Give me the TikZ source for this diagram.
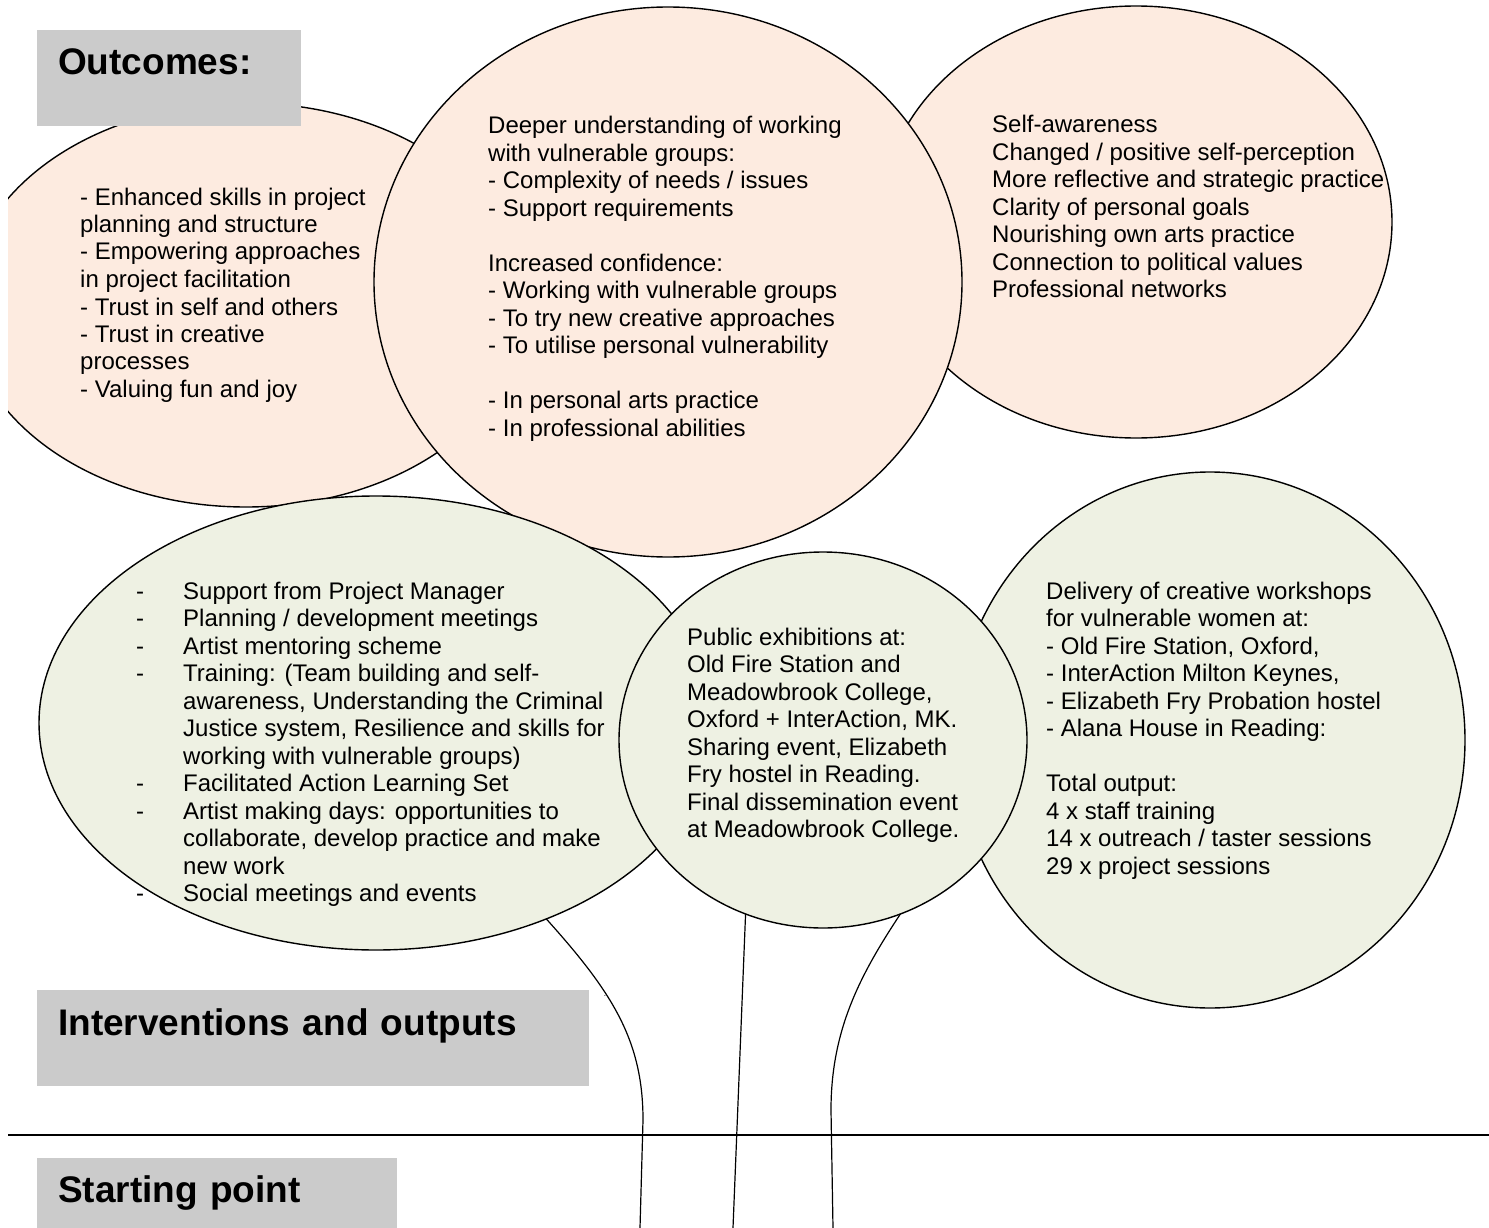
\documentclass[tikz,border=0pt]{standalone}
\usepackage{fontspec}
\setmainfont{Liberation Sans}
\usepackage{xcolor}
\definecolor{outpeach}{HTML}{FDEBE0}
\definecolor{intgreen}{HTML}{EEF1E3}
\definecolor{bandgray}{HTML}{CBCBCB}
\usepackage{tikz}
\usetikzlibrary{shapes.geometric, positioning}
\tikzset{
  peachblob/.style={ellipse, draw=black, line width=1.4pt, fill=outpeach, inner sep=0pt, outer sep=0pt},
  greenblob/.style={ellipse, draw=black, line width=1.4pt, fill=intgreen, inner sep=0pt, outer sep=0pt},
  bandbox/.style={rectangle, fill=bandgray, anchor=north west, inner xsep=21pt, inner ysep=0pt,
                  align=left, font=\fontsize{37}{44}\selectfont\bfseries},
  blobtxt/.style={anchor=base west, inner sep=0pt, font=\fontsize{24}{27.5}\selectfont},
  stem/.style={line width=1.2pt, color=black},
}

\begin{document}
\begin{tikzpicture}[x=1pt, y=-1pt]
  \useasboundingbox (0,0) rectangle (1489,1228);
  \begin{scope}
  \clip (8,0) rectangle (1489,1228);
  % outcomes
  \node[peachblob, minimum width=560pt, minimum height=404pt] (skills) at (246,305) {};
  \node[peachblob, minimum width=512pt, minimum height=432pt] (selfaware) at (1136,222) {};
  \node[peachblob, minimum width=588pt, minimum height=550pt] (understand) at (668,282) {};
  % interventions and outputs
  \node[greenblob, minimum width=674pt, minimum height=454pt] (support) at (376,723) {};
  \node[greenblob, minimum width=510pt, minimum height=536pt] (workshops) at (1210,740) {};
  \node[greenblob, minimum width=408pt, minimum height=376pt] (exhibits) at (823,740) {};
  % bands
  \node[bandbox, text width=222pt, text height=44pt, text depth=52pt] (outcomes) at (37,30) {Outcomes:};
  \node[bandbox, text width=510pt, text height=45pt, text depth=51pt] (interv) at (37,990) {Interventions and outputs};
  \node[bandbox, text width=318pt, text height=44pt, text depth=52pt] (start) at (37,1158) {Starting point};
  \coordinate (divL) at (8,1135);
  \coordinate (divR) at (1489,1135);
  \draw[line width=2.4pt] (divL) -- (divR);
  % stems
  \coordinate (rootL) at (640,1228);
  \coordinate (rootM) at (733,1228);
  \coordinate (rootR) at (833,1228);
  \draw[stem] (support.-49.7) .. controls (612,992) and (643,1040) .. (643,1120) -- (rootL);
  \draw[stem] (exhibits.-114) -- (rootM);
  \draw[stem] (exhibits.-66.6) .. controls (860,975) and (831,1030) .. (831,1110) -- (rootR);
  \node[inner sep=0pt, font=\fontsize{8}{8}\selectfont] (speck) at (605,996) {.};
  % texts
  \node[blobtxt] (skillstxt) at (80,205) {\begin{tabular}[t]{@{}l@{}}
    - Enhanced skills in project\\planning and structure\\- Empowering approaches\\in project facilitation\\
    - Trust in self and others\\- Trust in creative\\processes\\- Valuing fun and joy
  \end{tabular}};
  \node[blobtxt] (understandtxt) at (488,134) {\begin{tabular}[t]{@{}l@{}}
    Deeper understanding of working\\with vulnerable groups:\\- Complexity of needs / issues\\- Support requirements\\[27.5pt]
    Increased confidence:\\- Working with vulnerable groups\\- To try new creative approaches\\- To utilise personal vulnerability\\[27.5pt]
    - In personal arts practice\\- In professional abilities
  \end{tabular}};
  \node[blobtxt] (selfawaretxt) at (992,133) {\begin{tabular}[t]{@{}l@{}}
    Self-awareness\\Changed / positive self-perception\\More reflective and strategic practice\\Clarity of personal goals\\
    Nourishing own arts practice\\Connection to political values\\Professional networks
  \end{tabular}};
  \node[blobtxt] (supporttxt) at (136,599) {\begin{tabular}[t]{@{}p{47pt}@{}l@{}}
    - & Support from Project Manager\\
    - & Planning / development meetings\\
    - & Artist mentoring scheme\\
    - & Training: (Team building and self-\\
      & awareness, Understanding the Criminal\\
      & Justice system, Resilience and skills for\\
      & working with vulnerable groups)\\
    - & Facilitated Action Learning Set\\
    - & Artist making days: opportunities to\\
      & collaborate, develop practice and make\\
      & new work\\
    - & Social meetings and events
  \end{tabular}};
  \node[blobtxt] (exhibitstxt) at (687,645) {\begin{tabular}[t]{@{}l@{}}
    Public exhibitions at:\\Old Fire Station and\\Meadowbrook College,\\Oxford + InterAction, MK.\\
    Sharing event, Elizabeth\\Fry hostel in Reading.\\Final dissemination event\\at Meadowbrook College.
  \end{tabular}};
  \node[blobtxt] (workshopstxt) at (1046,599) {\begin{tabular}[t]{@{}l@{}}
    Delivery of creative workshops\\for vulnerable women at:\\- Old Fire Station, Oxford,\\- InterAction Milton Keynes,\\
    - Elizabeth Fry Probation hostel\\- Alana House in Reading:\\[27.5pt]
    Total output:\\4 x staff training\\14 x outreach / taster sessions\\29 x project sessions
  \end{tabular}};
  \end{scope}
\end{tikzpicture}
\end{document}
